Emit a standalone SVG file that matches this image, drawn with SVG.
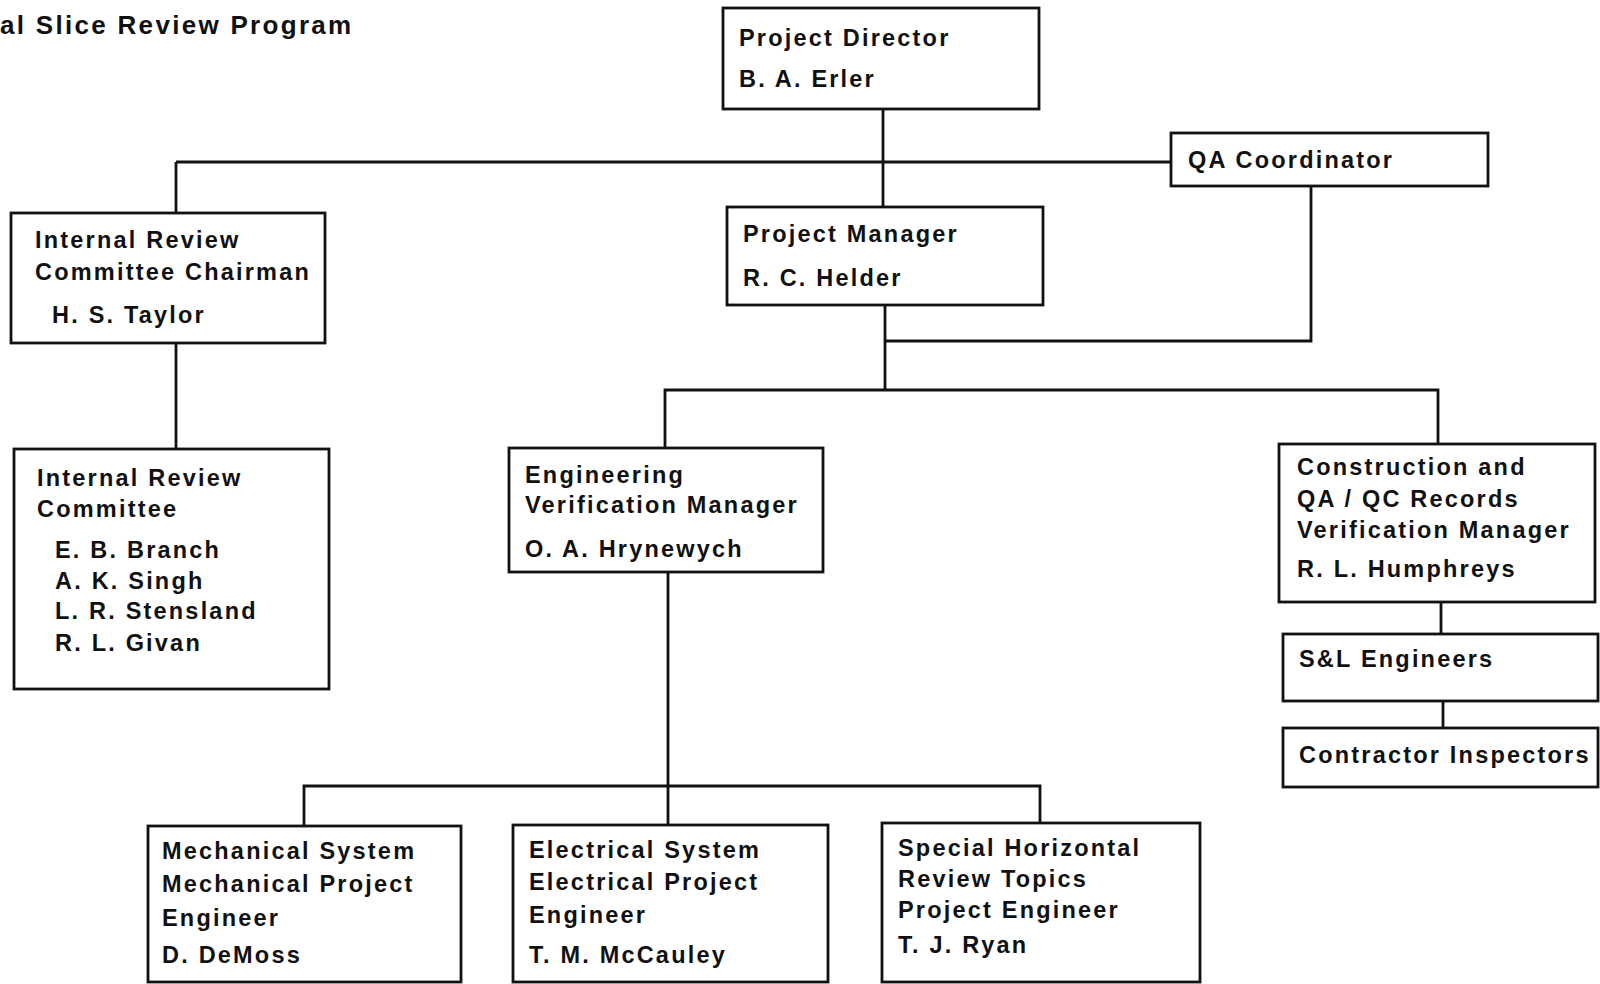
<svg xmlns="http://www.w3.org/2000/svg" width="1600" height="984" viewBox="0 0 1600 984">
<style>
  rect.box { fill: #ffffff; stroke: #111111; stroke-width: 2.8; }
  text { font-family: "Liberation Sans", Arial, sans-serif; font-weight: bold; font-size: 23.5px; letter-spacing: 2.2px; fill: #111111; }
  text.title { font-size: 26px; letter-spacing: 2.3px; }
  #connectors path { fill: none; stroke: #111111; stroke-width: 2.8; }
</style>
<rect x="0" y="0" width="1600" height="984" fill="#ffffff"/>
<text class="title" x="0" y="34">al Slice Review Program</text>

<g id="connectors">
  <path d="M883,109 V207"/>
  <path d="M176,162 H1171"/>
  <path d="M176,162 V213"/>
  <path d="M176,343 V449"/>
  <path d="M885,305 V390"/>
  <path d="M1311,186 V341 H885"/>
  <path d="M665,448 V390 H1438 V444"/>
  <path d="M1441,602 V634"/>
  <path d="M1443,701 V728"/>
  <path d="M668,572 V825"/>
  <path d="M304,826 V786 H1040 V823"/>
</g>

<g id="project-director">
  <rect class="box" x="723" y="8" width="316" height="101"/>
  <text x="739" y="46">Project Director</text>
  <text x="739" y="87">B. A. Erler</text>
</g>
<g id="qa-coordinator">
  <rect class="box" x="1171" y="133" width="317" height="53"/>
  <text x="1188" y="168">QA Coordinator</text>
</g>
<g id="project-manager">
  <rect class="box" x="727" y="207" width="316" height="98"/>
  <text x="743" y="242">Project Manager</text>
  <text x="743" y="286">R. C. Helder</text>
</g>
<g id="irc-chairman">
  <rect class="box" x="11" y="213" width="314" height="130"/>
  <text x="35" y="248">Internal Review</text>
  <text x="35" y="280">Committee Chairman</text>
  <text x="52" y="323">H. S. Taylor</text>
</g>
<g id="irc">
  <rect class="box" x="14" y="449" width="315" height="240"/>
  <text x="37" y="486">Internal Review</text>
  <text x="37" y="517">Committee</text>
  <text x="55" y="558">E. B. Branch</text>
  <text x="55" y="589">A. K. Singh</text>
  <text x="55" y="619">L. R. Stensland</text>
  <text x="55" y="651">R. L. Givan</text>
</g>
<g id="evm">
  <rect class="box" x="509" y="448" width="314" height="124"/>
  <text x="525" y="483">Engineering</text>
  <text x="525" y="513">Verification Manager</text>
  <text x="525" y="557">O. A. Hrynewych</text>
</g>
<g id="construction">
  <rect class="box" x="1279" y="444" width="316" height="158"/>
  <text x="1297" y="475">Construction and</text>
  <text x="1297" y="507">QA / QC Records</text>
  <text x="1297" y="538">Verification Manager</text>
  <text x="1297" y="577">R. L. Humphreys</text>
</g>
<g id="sl-engineers">
  <rect class="box" x="1283" y="634" width="315" height="67"/>
  <text x="1299" y="667">S&amp;L Engineers</text>
</g>
<g id="contractor-inspectors">
  <rect class="box" x="1283" y="728" width="315" height="59"/>
  <text x="1299" y="763">Contractor Inspectors</text>
</g>
<g id="mechanical">
  <rect class="box" x="148" y="826" width="313" height="156"/>
  <text x="162" y="859">Mechanical System</text>
  <text x="162" y="892">Mechanical Project</text>
  <text x="162" y="926">Engineer</text>
  <text x="162" y="963">D. DeMoss</text>
</g>
<g id="electrical">
  <rect class="box" x="513" y="825" width="315" height="157"/>
  <text x="529" y="858">Electrical System</text>
  <text x="529" y="890">Electrical Project</text>
  <text x="529" y="923">Engineer</text>
  <text x="529" y="963">T. M. McCauley</text>
</g>
<g id="special">
  <rect class="box" x="882" y="823" width="318" height="159"/>
  <text x="898" y="856">Special Horizontal</text>
  <text x="898" y="887">Review Topics</text>
  <text x="898" y="918">Project Engineer</text>
  <text x="898" y="953">T. J. Ryan</text>
</g>
</svg>
